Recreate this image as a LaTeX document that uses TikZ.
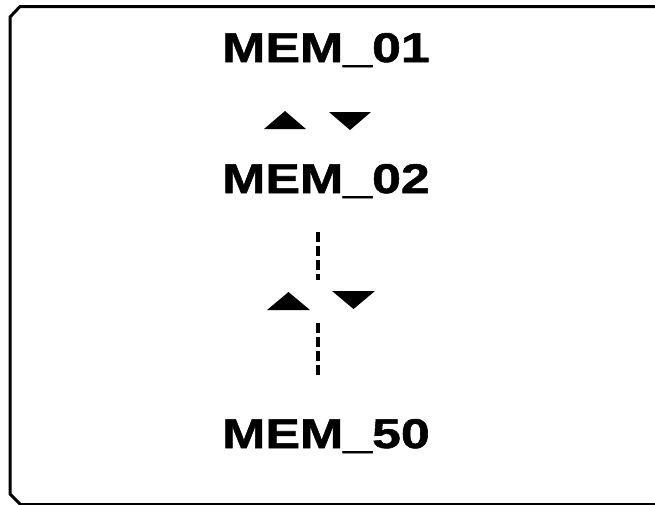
\documentclass[tikz,border=0pt]{standalone}
\usepackage{fontspec}
\setmainfont{Liberation Sans}
\newfontfamily\memfont[FakeStretch=1.25,FakeBold=1.3]{Liberation Sans Bold}
\begin{document}
\begin{tikzpicture}[x=1pt,y=-1pt,
  memlabel/.style={inner sep=0pt, font=\memfont\fontsize{41.5}{45}\selectfont, anchor=base},
  link/.style={line width=3.2pt, dash pattern=on 10pt off 4pt}]
\useasboundingbox (0,0) rectangle (655,504);
\begin{scope}
\clip (0,0) rectangle (655,504);
\draw[line width=3pt, line join=miter] (660,6.5) -- (20,6.5) -- (10,17) -- (10,494) -- (20.5,504.5) -- (660,504.5);
\end{scope}
\node[memlabel] (m1) at (326,62) {MEM\_01};
\node[memlabel] (m2) at (326,193) {MEM\_02};
\node[memlabel] (m50) at (326,448) {MEM\_50};
% first pair of arrows
\fill (264,129) -- (306,129) -- (285,111) -- cycle;
\fill (329,112) -- (371,112) -- (350,130) -- cycle;
% dashed link
\coordinate (la) at (318,232);
\coordinate (lb) at (318,280);
\coordinate (lc) at (318,323);
\coordinate (ld) at (318,377);
\draw[link] (la) -- (lb);
\draw[link] (lc) -- (ld);
\fill (267,310) -- (310,310) -- (288.5,292) -- cycle;
\fill (332,291) -- (375,291) -- (353.5,309) -- cycle;
\end{tikzpicture}
\end{document}
